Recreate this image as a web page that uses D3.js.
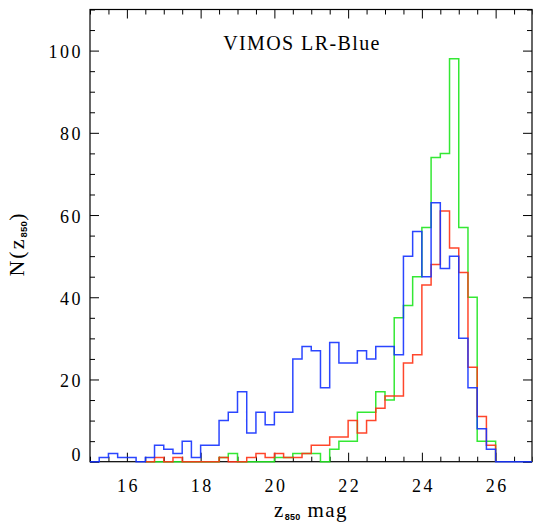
<!DOCTYPE html>
<html>
<head>
<meta charset="utf-8">
<script src="https://cdn.jsdelivr.net/npm/d3@7"></script>
<style>
  html, body { margin: 0; padding: 0; background: #fff; }
  svg text { font-family: "Liberation Serif", "DejaVu Serif", serif; fill: #000; }
</style>
</head>
<body>
<svg id="chart" width="533" height="527"></svg>
<script>
// Histogram bins: 0.25 mag wide, counts listed from the first bin's lower edge
const binWidth = 0.25;

const blueStart = 15.0;
const blueCounts = [0, 1, 2, 1, 1, 0, 1, 4, 3, 2, 5, 1, 4, 4, 10, 12, 17, 7, 12, 9,
  12, 12, 25, 28, 27, 18, 29, 24, 24, 27, 25, 28, 28, 26, 50, 56, 45, 63, 47, 50,
  30, 18, 8, 3, 0, 0, 0, 0];

const redStart = 16.5;
const redCounts = [0, 1, 0, 1, 0, 0, 0, 0, 1, 0, 0, 1, 2, 1, 2, 1, 1, 2, 4, 4,
  6, 6, 10, 7, 10, 13, 16, 16, 24, 26, 43, 48, 61, 52, 46, 23, 11, 4];

const greenStart = 16.5;
const greenCounts = [0, 0, 0, 0, 0, 0, 0, 0, 1, 2, 0, 0, 0, 0, 1, 1, 2, 2, 2, 0,
  3, 5, 5, 12, 12, 17, 15, 35, 38, 45, 57, 74, 75, 98, 57, 40, 5, 5];

const xMajorTicks = [16, 18, 20, 22, 24, 26];
const yMajorTicks = [0, 20, 40, 60, 80, 100];

const titleText = "VIMOS LR-Blue";

// Layout
const plotLeft = 90, plotRight = 532, plotTop = 9.5, plotBottom = 461.7;

const svg = d3.select("#chart");

const x = d3.scaleLinear().domain([15, 27]).range([plotLeft, plotRight + 0.5]);
const y = d3.scaleLinear().domain([0, 110]).range([plotBottom, plotTop]);

const xMinor = d3.range(15, 27.001, 0.5).filter(v => !xMajorTicks.includes(v));
const yMinor = d3.range(0, 110.001, 5).filter(v => !yMajorTicks.includes(v));

const majorLen = 9, minorLen = 5;

function styleAxis(g) {
  g.select(".domain").remove();
  g.selectAll(".tick line").attr("stroke", "#000").attr("stroke-width", 1);
}

// Bottom axis with labels
const gx = svg.append("g").attr("transform", `translate(0,${plotBottom})`)
  .call(d3.axisBottom(x).tickValues(xMajorTicks).tickSize(-majorLen).tickFormat(d3.format("d")));
styleAxis(gx);
gx.selectAll(".tick text")
  .attr("y", 30).attr("dy", 0)
  .style("font-size", "18px").style("letter-spacing", "2.5px")
  .attr("dx", "1.2px");
svg.append("g").attr("transform", `translate(0,${plotBottom})`)
  .call(d3.axisBottom(x).tickValues(xMinor).tickSize(-minorLen).tickFormat(""))
  .call(styleAxis);

// Top axis (ticks only)
svg.append("g").attr("transform", `translate(0,${plotTop})`)
  .call(d3.axisTop(x).tickValues(xMajorTicks).tickSize(-majorLen).tickFormat(""))
  .call(styleAxis);
svg.append("g").attr("transform", `translate(0,${plotTop})`)
  .call(d3.axisTop(x).tickValues(xMinor).tickSize(-minorLen).tickFormat(""))
  .call(styleAxis);

// Left axis with labels
const gy = svg.append("g").attr("transform", `translate(${plotLeft},0)`)
  .call(d3.axisLeft(y).tickValues(yMajorTicks).tickSize(-majorLen).tickFormat(d3.format("d")));
styleAxis(gy);
gy.selectAll(".tick text")
  .attr("x", -7).attr("dy", 0)
  .attr("y", d => Math.min(7, plotBottom - 1 - y(d)))
  .style("font-size", "18px").style("letter-spacing", "2.5px");
svg.append("g").attr("transform", `translate(${plotLeft},0)`)
  .call(d3.axisLeft(y).tickValues(yMinor).tickSize(-minorLen).tickFormat(""))
  .call(styleAxis);

// Right axis (ticks only)
svg.append("g").attr("transform", `translate(${plotRight},0)`)
  .call(d3.axisRight(y).tickValues(yMajorTicks).tickSize(-majorLen).tickFormat(""))
  .call(styleAxis);
svg.append("g").attr("transform", `translate(${plotRight},0)`)
  .call(d3.axisRight(y).tickValues(yMinor).tickSize(-minorLen).tickFormat(""))
  .call(styleAxis);

// Clip region for the histograms (a little slack at the bottom so zero-count
// bins stay visible along the frame)
svg.append("clipPath").attr("id", "plot-clip")
  .append("rect").attr("x", plotLeft).attr("y", plotTop)
  .attr("width", plotRight - plotLeft).attr("height", plotBottom - plotTop + 2);

// Step outline of a histogram
function stepPoints(start, counts) {
  const pts = [];
  counts.forEach((c, i) => {
    const x0 = start + i * binWidth;
    pts.push([x0, c], [x0 + binWidth, c]);
  });
  const end = start + counts.length * binWidth;
  if (counts[counts.length - 1] !== 0) pts.push([end, 0]);
  return pts;
}

const line = d3.line().x(d => x(d[0])).y(d => y(d[1]));

const series = [
  { name: "green", start: greenStart, counts: greenCounts, color: "#1ee61e" },
  { name: "red", start: redStart, counts: redCounts, color: "#ff3214" },
  { name: "blue", start: blueStart, counts: blueCounts, color: "#1432ff" }
];

// Frame
svg.append("rect")
  .attr("x", plotLeft).attr("y", plotTop)
  .attr("width", plotRight - plotLeft).attr("height", plotBottom - plotTop)
  .attr("fill", "none").attr("stroke", "#000").attr("stroke-width", 1.2);

svg.append("g").attr("clip-path", "url(#plot-clip)")
  .selectAll("path")
  .data(series)
  .join("path")
  .attr("class", d => "hist " + d.name)
  .attr("d", d => line(stepPoints(d.start, d.counts)))
  .attr("fill", "none")
  .attr("stroke", d => d.color)
  .attr("stroke-width", 1.5)
  .attr("stroke-opacity", 0.9)
  .attr("stroke-linejoin", "miter");

// Title inside the plot
svg.append("text")
  .attr("x", 302).attr("y", 50)
  .attr("text-anchor", "middle")
  .style("font-size", "20px").style("letter-spacing", "1.4px")
  .text(titleText);

// X axis title: z_850 mag
const xt = svg.append("text")
  .attr("x", 311).attr("y", 517)
  .attr("text-anchor", "middle")
  .style("font-size", "21px").style("letter-spacing", "1.5px");
xt.append("tspan").text("z");
xt.append("tspan").attr("dy", 3).style("font-size", "9px").style("font-weight", "bold")
  .style("font-family", "'Liberation Sans', Arial, sans-serif").style("letter-spacing", "0.3px").text("850");
xt.append("tspan").attr("dy", -3).text(" mag");

// Y axis title: N(z_850)
const yt = svg.append("text")
  .attr("transform", "translate(24,244) rotate(-90)")
  .attr("text-anchor", "middle")
  .style("font-size", "22px").style("letter-spacing", "2px");
yt.append("tspan").text("N(z");
yt.append("tspan").attr("dy", 3).style("font-size", "9.5px").style("font-weight", "bold")
  .style("font-family", "'Liberation Sans', Arial, sans-serif").style("letter-spacing", "0.3px").text("850");
yt.append("tspan").attr("dy", -3).text(")");
</script>
</body>
</html>
